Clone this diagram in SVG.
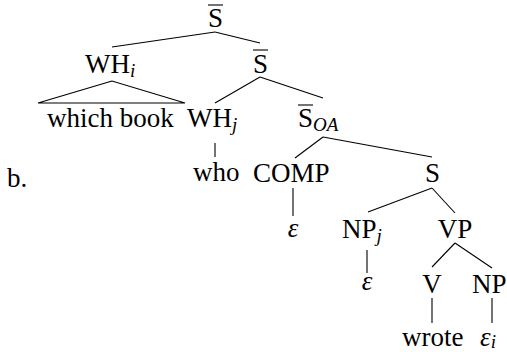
<svg xmlns="http://www.w3.org/2000/svg" width="507" height="352" viewBox="0 0 507 352">
<style>
text{font-family:"Liberation Serif","Times New Roman",serif;font-size:27px;fill:#000}
.m{text-anchor:middle}
.sub{font-size:19px;font-style:italic}
.it{font-style:italic}
line,polygon{stroke:#000;stroke-width:1.1;fill:none}
</style>
<rect width="507" height="352" fill="#fff"/>
<g id="connectors">
<line x1="215" y1="32" x2="112" y2="47"/>
<line x1="215" y1="32" x2="260" y2="43"/>
<polygon points="112,81 38,103 185,103"/>
<line x1="260" y1="77" x2="215" y2="103"/>
<line x1="260" y1="77" x2="323" y2="98"/>
<line x1="215" y1="143" x2="215" y2="157"/>
<line x1="323" y1="137" x2="295" y2="158"/>
<line x1="323" y1="137" x2="432" y2="157"/>
<line x1="293" y1="188" x2="293" y2="216"/>
<line x1="432" y1="188" x2="368" y2="212"/>
<line x1="432" y1="188" x2="455" y2="213"/>
<line x1="367" y1="250" x2="367" y2="273"/>
<line x1="455" y1="243" x2="432" y2="267"/>
<line x1="455" y1="243" x2="492" y2="268"/>
<line x1="432" y1="298" x2="432" y2="323"/>
<line x1="492" y1="298" x2="492" y2="323"/>
</g>
<g id="label-b"><text x="7" y="187">b.</text></g>
<g id="n-sbar-top"><line x1="208" y1="5" x2="223" y2="5"/><text class="m" x="215.5" y="27">S</text></g>
<g id="n-wh-i"><text x="85" y="73">WH<tspan class="sub" dy="4">i</tspan></text></g>
<g id="n-sbar-mid"><line x1="253" y1="50" x2="268" y2="50"/><text class="m" x="260.5" y="73">S</text></g>
<g id="n-which-book"><text x="47" y="127">which book</text></g>
<g id="n-wh-j"><text x="187" y="127">WH<tspan class="sub" dy="4">j</tspan></text></g>
<g id="n-sbar-oa"><line x1="298" y1="105" x2="313" y2="105"/><text x="298" y="127">S<tspan class="sub" dy="4">OA</tspan></text></g>
<g id="n-who"><text x="193" y="181">who</text></g>
<g id="n-comp"><text x="253" y="182">COMP</text></g>
<g id="n-s"><text class="m" x="432.5" y="182">S</text></g>
<g id="n-eps-comp"><text class="m it" x="293" y="237">ε</text></g>
<g id="n-np-j"><text x="342" y="238">NP<tspan class="sub" dy="4">j</tspan></text></g>
<g id="n-vp"><text class="m" x="455" y="238">VP</text></g>
<g id="n-eps-np"><text class="m it" x="367" y="290">ε</text></g>
<g id="n-v"><text class="m" x="432" y="293">V</text></g>
<g id="n-np"><text x="472" y="293">NP</text></g>
<g id="n-wrote"><text x="402" y="346">wrote</text></g>
<g id="n-eps-i"><text class="it" x="480" y="346">ε<tspan class="sub" dy="2">i</tspan></text></g>
</svg>
